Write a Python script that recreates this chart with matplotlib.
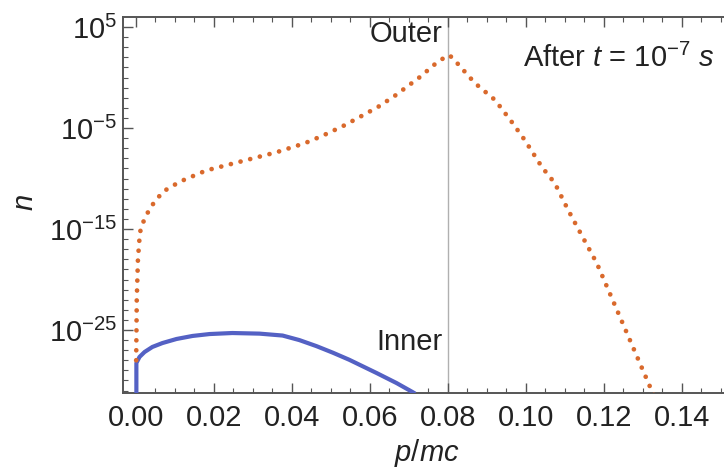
import numpy as np
import matplotlib
matplotlib.use("Agg")
import matplotlib.pyplot as plt
from matplotlib.ticker import FixedLocator, FuncFormatter, NullFormatter

plt.rcParams['font.family'] = ['Liberation Sans', 'DejaVu Sans']
plt.rcParams['mathtext.fontset'] = 'custom'
plt.rcParams['mathtext.rm'] = 'Liberation Sans'
plt.rcParams['mathtext.it'] = 'Liberation Sans:italic'

# Outer (dotted) curve: p/mc and log10(n)
outer_x = [0.00005, 0.0002, 0.0005, 0.001, 0.0015, 0.0025, 0.0036, 0.0069, 0.0113,
           0.018, 0.026, 0.036, 0.0433, 0.0479, 0.0531, 0.0574, 0.0621, 0.0664,
           0.0728, 0.0767, 0.080, 0.0810, 0.0869, 0.0921, 0.0964, 0.0997, 0.1041,
           0.1074, 0.1108, 0.1133, 0.1182, 0.1250, 0.1318, 0.1330]
outer_log = [-28.0, -22.0, -18.0, -15.4, -14.6, -13.8, -12.9, -11.3, -10.3,
             -9.2, -8.4, -7.4, -6.5, -5.75, -4.8, -3.9, -2.9, -1.8,
             0.05, 1.34, 2.23, 2.03, -0.54, -2.23, -4.41, -6.19, -8.86,
             -10.45, -13.1, -14.9, -18.4, -24.5, -30.6, -31.6]

# Inner (solid) curve
inner_x = [0.0001, 0.0001, 0.0001, 0.0009, 0.0022, 0.0042, 0.0068, 0.0104, 0.0145,
           0.0189, 0.0247, 0.0317, 0.0376, 0.0419, 0.0463, 0.0505, 0.0547, 0.0617,
           0.0668, 0.0709, 0.0716]
inner_log = [-31.5, -29.95, -28.27, -27.67, -27.18, -26.68, -26.29, -25.89, -25.59,
             -25.40, -25.30, -25.36, -25.55, -26.0, -26.6, -27.25, -27.95, -29.26,
             -30.25, -31.14, -31.3]

x_major = [0.00, 0.02, 0.04, 0.06, 0.08, 0.10, 0.12, 0.14]
y_major_exp = [5, -5, -15, -25]
t_exp = -7
p_split = 0.08


def ylab(v, pos):
    return r"$10^{%d}$" % int(round(np.log10(v)))


fig = plt.figure(figsize=(7.24, 4.71), dpi=100)
ax = fig.add_axes([123/724, 1-393/471, 1-123/724, (393-17)/471])

ax.axvline(p_split, color='#b0b0b0', lw=1.0, zorder=1)
ax.plot(inner_x, 10.0**np.array(inner_log), color='#5461c4', lw=3.0,
        solid_capstyle='butt', solid_joinstyle='round', zorder=3)
ax.plot(outer_x, 10.0**np.array(outer_log), color='#d9692c', lw=3.4,
        linestyle=(0, (0.01, 2.1)), dash_capstyle='round', zorder=4)

ax.set_yscale('log')
ax.set_xlim(-0.00333, 0.1508)
ax.set_ylim(10**-31.24, 10**6.0)

ax.xaxis.set_major_locator(FixedLocator(x_major))
ax.xaxis.set_minor_locator(FixedLocator(np.arange(0.0, 0.1501, 0.005)))
ax.xaxis.set_major_formatter(FuncFormatter(lambda v, p: f"{v:.2f}"))

ax.yaxis.set_major_locator(FixedLocator([10.0**e for e in y_major_exp]))
ax.yaxis.set_minor_locator(FixedLocator([10.0**e for e in range(-31, 6)]))
ax.yaxis.set_major_formatter(FuncFormatter(ylab))
ax.yaxis.set_minor_formatter(NullFormatter())

ax.tick_params(which='both', direction='in', top=True, right=False, color='#555555')
ax.tick_params(which='major', length=7, width=1.0, labelsize=21, pad=8, labelcolor='#222222')
ax.tick_params(which='minor', length=3.5, width=0.8)
ax.tick_params(axis='y', which='major', pad=4)

for s in ['left', 'bottom', 'top']:
    ax.spines[s].set_color('#555555')
    ax.spines[s].set_linewidth(1.4)
ax.spines['right'].set_visible(False)

ax.text(0.0787, 10**4.3, 'Outer', ha='right', va='center', fontsize=21, color='#222222')
ax.text(0.0787, 10**-26.2, 'Inner', ha='right', va='center', fontsize=21, color='#222222')
ax.text(0.0992, 10**1.93, r'After $t$ = 10$^{%d}$ $s$' % t_exp, ha='left', va='center',
        fontsize=21, color='#222222')

fig.text(427/724, 1-453/471, r'$p/mc$', ha='center', va='center', fontsize=21, color='#222222')
fig.text(25/724, 1-203/471, r'$n$', ha='center', va='center', fontsize=21, rotation=90, color='#222222')

fig.savefig('out.png', dpi=100)
